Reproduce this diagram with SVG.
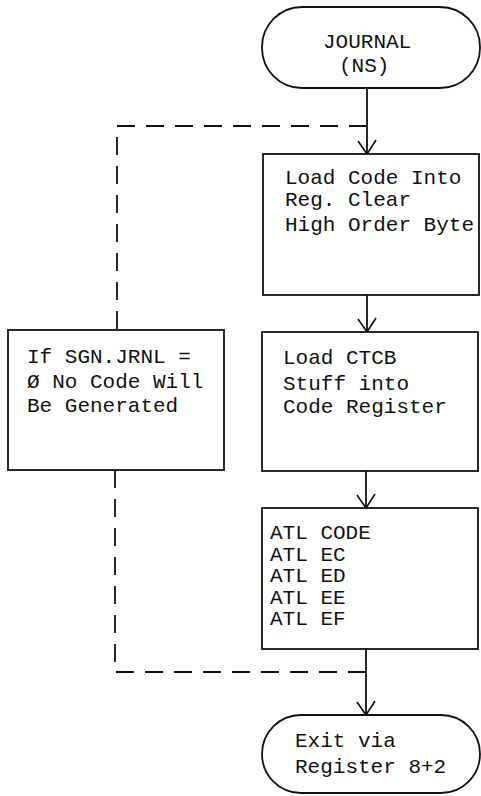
<svg xmlns="http://www.w3.org/2000/svg" width="481" height="796" viewBox="0 0 481 796">
<style>
.shape{fill:#fff;stroke:#111;stroke-width:1.8}
.t{font-family:"Liberation Mono","DejaVu Sans Mono",monospace;font-size:21px;fill:#111}
.flow{fill:none;stroke:#111;stroke-width:1.8}
.dash{fill:none;stroke:#111;stroke-width:1.8;stroke-dasharray:18 11}
.ah{fill:none;stroke:#111;stroke-width:1.6}
</style>
<rect width="481" height="796" fill="#fff"/>
<g id="connectors">
<path class="flow" d="M367,88 V154"/>
<path class="ah" d="M358,141 L367,154 L376,140"/>
<path class="flow" d="M367,295 V332"/>
<path class="ah" d="M358,319 L367,332 L376,318"/>
<path class="flow" d="M366,471 V508"/>
<path class="ah" d="M357,495 L366,508 L375,494"/>
<path class="flow" d="M366,649 V715"/>
<path class="ah" d="M357,702 L366,715 L375,701"/>
<path class="dash" d="M367,126 H117 V330"/>
<path class="dash" d="M115,470 V672 H366"/>
</g>
<g id="start">
<rect class="shape" x="262" y="7" width="218" height="81" rx="40" ry="40"/>
<text class="t" x="323" y="48">JOURNAL</text>
<text class="t" x="339" y="72">(NS)</text>
</g>
<g id="load-code">
<rect class="shape" x="263" y="154" width="216" height="141"/>
<text class="t" x="285" y="184">Load Code Into</text>
<text class="t" x="285" y="206">Reg.  Clear</text>
<text class="t" x="285" y="231">High Order Byte</text>
</g>
<g id="note">
<rect class="shape" x="8" y="330" width="216" height="140"/>
<text class="t" x="27" y="363">If SGN.JRNL =</text>
<text class="t" x="27" y="388">Ø No Code Will</text>
<text class="t" x="27" y="412">Be Generated</text>
</g>
<g id="load-ctcb">
<rect class="shape" x="262" y="332" width="216" height="139"/>
<text class="t" x="283" y="364">Load CTCB</text>
<text class="t" x="283" y="390">Stuff into</text>
<text class="t" x="283" y="413">Code Register</text>
</g>
<g id="atl">
<rect class="shape" x="262" y="508" width="216" height="141"/>
<text class="t" x="270" y="539">ATL CODE</text>
<text class="t" x="270" y="561">ATL EC</text>
<text class="t" x="270" y="582">ATL ED</text>
<text class="t" x="270" y="604">ATL EE</text>
<text class="t" x="270" y="625">ATL EF</text>
</g>
<g id="exit">
<rect class="shape" x="262" y="715" width="218" height="78" rx="39" ry="39"/>
<text class="t" x="295" y="747">Exit via</text>
<text class="t" x="295" y="773">Register 8+2</text>
</g>
</svg>
